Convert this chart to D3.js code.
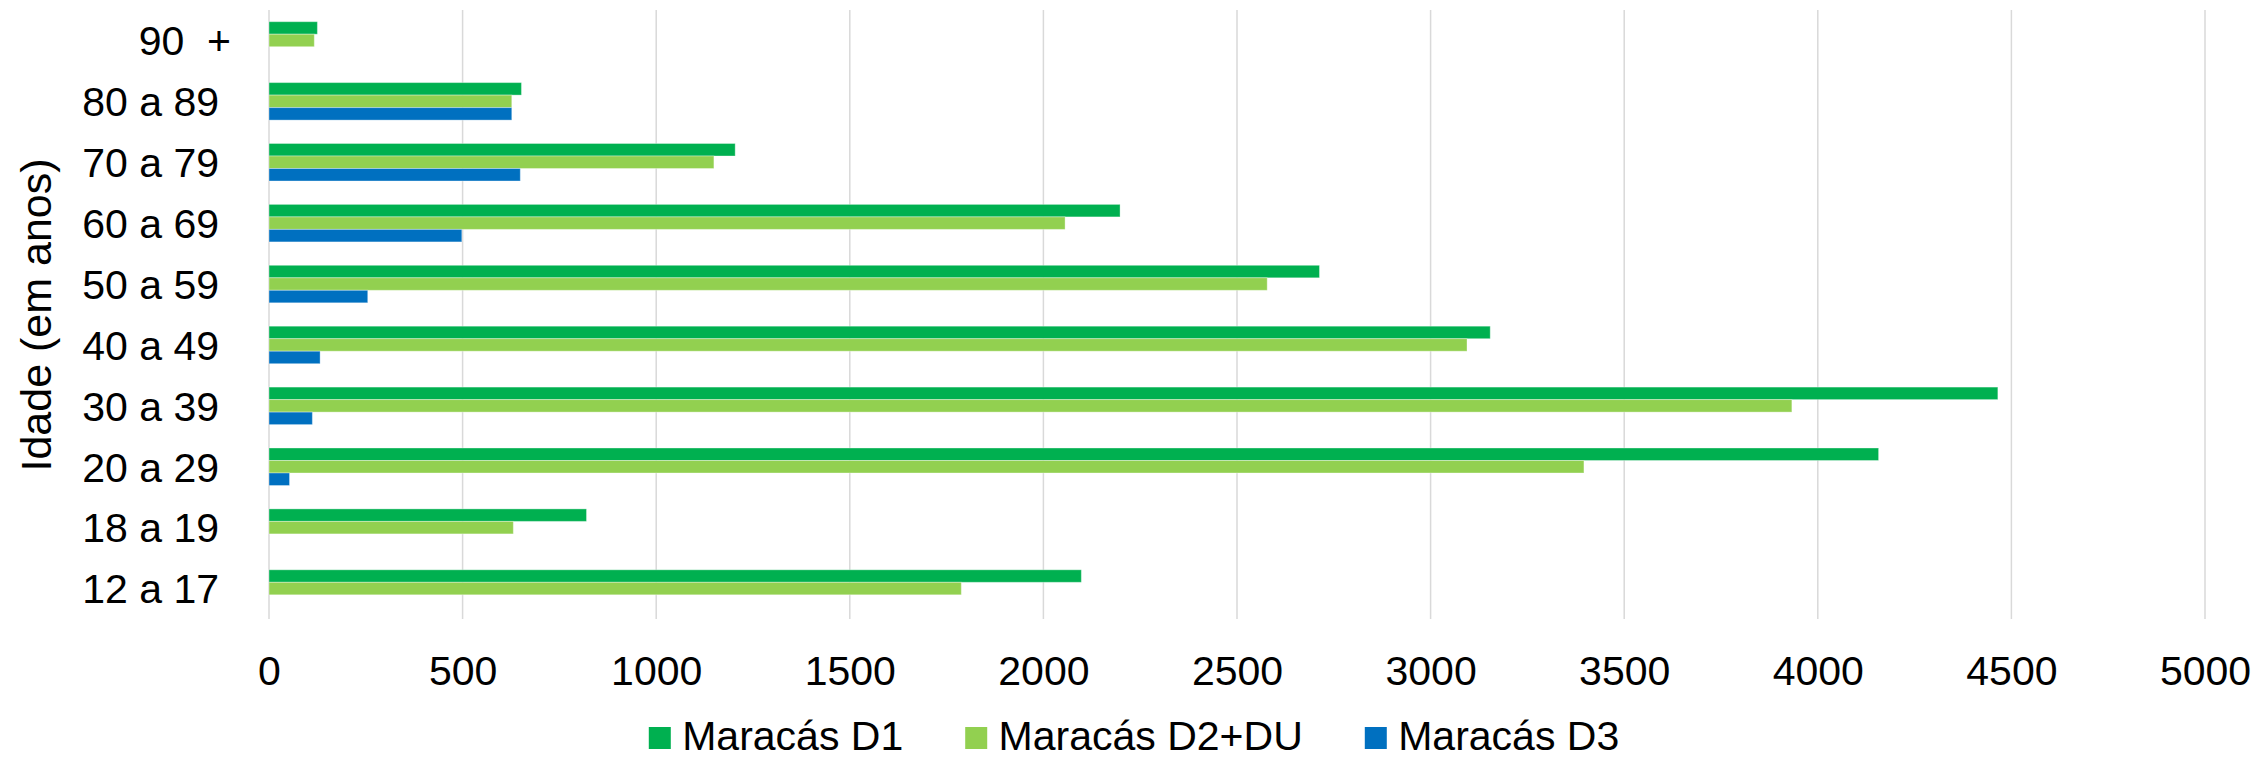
<!DOCTYPE html>
<html>
<head>
<meta charset="utf-8">
<script src="https://cdn.jsdelivr.net/npm/d3@7"></script>
<style>
  html, body { margin: 0; padding: 0; background: #ffffff; }
  svg { display: block; font-family: "Liberation Sans", Arial, sans-serif; }
</style>
</head>
<body>
<svg id="chart" width="2259" height="759"></svg>
<script>
// ---- data (top to bottom as drawn) ----
const categories = ["90  +", "80 a 89", "70 a 79", "60 a 69", "50 a 59", "40 a 49", "30 a 39", "20 a 29", "18 a 19", "12 a 17"];
const seriesNames = ["Maracás D1", "Maracás D2+DU", "Maracás D3"];
const d1Values = [125, 652, 1204, 2198, 2713, 3154, 4465, 4157, 820, 2098];
const d2Values = [117, 627, 1149, 2056, 2578, 3094, 3933, 3396, 631, 1788];
const d3Values = [0, 627, 649, 498, 255, 132, 112, 53, 0, 0];
const xTicks = [0, 500, 1000, 1500, 2000, 2500, 3000, 3500, 4000, 4500, 5000];
const yTitle = "Idade (em anos)";
const colors = ["#00B050", "#92D050", "#0070C0"];

(function () {
const seriesValues = [d1Values, d2Values, d3Values];
const rows = categories.map((c, i) => ({
  cat: c,
  vals: seriesNames.map((s, j) => ({ s, v: seriesValues[j][i] }))
}));

const svg = d3.select("#chart");
const pLeft = 269, pRight = 2205, pTop = 10, pBottom = 619;
const fontSize = 41;

const x = d3.scaleLinear().domain([0, 5000]).range([pLeft, pRight]);
const y0 = d3.scaleBand().domain(categories).range([pTop, pBottom]).paddingInner(0.384).paddingOuter(0.192);
const y1 = d3.scaleBand().domain(seriesNames).range([0, y0.bandwidth()]);

// gridlines
svg.append("g").selectAll("line").data(xTicks).join("line")
  .attr("x1", d => x(d)).attr("x2", d => x(d))
  .attr("y1", pTop).attr("y2", pBottom)
  .attr("stroke", "#d9d9d9").attr("stroke-width", 1.5);

// bars
const groups = svg.append("g").selectAll("g").data(rows).join("g")
  .attr("transform", d => `translate(0,${y0(d.cat)})`);
groups.selectAll("rect").data(d => d.vals.filter(v => v.v > 0)).join("rect")
  .attr("x", x(0))
  .attr("y", d => y1(d.s))
  .attr("width", d => x(d.v) - x(0))
  .attr("height", y1.bandwidth())
  .attr("fill", (d) => colors[seriesNames.indexOf(d.s)])
  .attr("stroke", "#ffffff").attr("stroke-opacity", 0.35).attr("stroke-width", 1);

// x axis labels
const xAxis = d3.axisBottom(x).tickValues(xTicks).tickSize(0).tickPadding(0).tickFormat(d3.format("d"));
const gx = svg.append("g").attr("transform", `translate(0,${pBottom})`).call(xAxis);
gx.select(".domain").remove();
gx.selectAll("text")
  .attr("font-size", fontSize).attr("font-family", "Liberation Sans, Arial, sans-serif")
  .attr("fill", "#000").attr("dy", null).attr("y", 66);

// y axis labels
const yAxis = d3.axisLeft(y0).tickSize(0).tickPadding(0);
const gy = svg.append("g").attr("transform", `translate(219,0)`).call(yAxis);
gy.select(".domain").remove();
gy.selectAll("text")
  .attr("font-size", fontSize).attr("font-family", "Liberation Sans, Arial, sans-serif")
  .attr("fill", "#000").attr("dy", "0.36em")
  .attr("x", d => d === "90  +" ? 12 : 0)
  .style("white-space", "pre");

// y title
svg.append("text")
  .attr("transform", `translate(50.5,${(pTop + pBottom) / 2 + 0.5}) rotate(-90)`)
  .attr("text-anchor", "middle")
  .attr("font-size", 43)
  .attr("fill", "#000")
  .text(yTitle);

// legend
const legend = svg.append("g");
const items = legend.selectAll("g").data(seriesNames).join("g");
items.append("rect").attr("x", 0).attr("y", 727).attr("width", 22).attr("height", 22)
  .attr("fill", (d, i) => colors[i]);
items.append("text").attr("x", 33.4).attr("y", 750).attr("font-size", fontSize).attr("fill", "#000").text(d => d);
const gap = 62;
const widths = [];
items.each(function () {
  const w = 33.4 + d3.select(this).select("text").node().getComputedTextLength();
  widths.push(w);
});
const total = d3.sum(widths) + gap * (widths.length - 1);
let start = 1134 - total / 2;
items.attr("transform", (d, i) => {
  const tx = start;
  start += widths[i] + gap;
  return `translate(${tx},0)`;
});
})();
</script>
</body>
</html>
